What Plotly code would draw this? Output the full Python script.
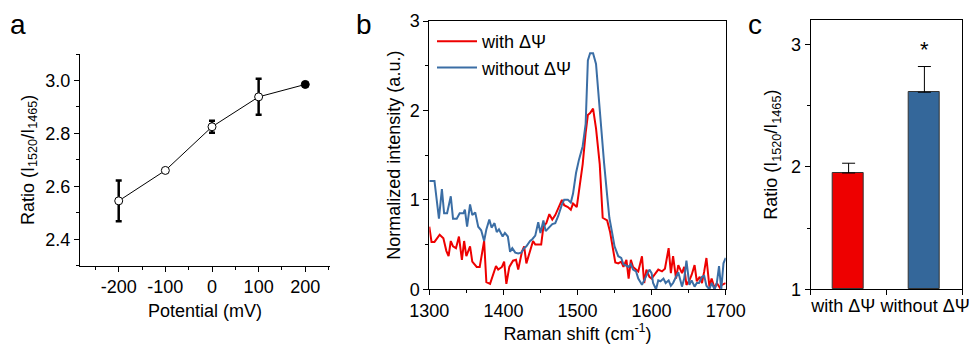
import plotly.graph_objects as go

W, H = 970, 344
FONT = "Liberation Sans, Arial, sans-serif"

# ---------------- Panel a data ----------------
potential = [-200, -100, 0, 100, 200]
ratio_a = [2.545, 2.66, 2.825, 2.938, 2.985]
ratio_a_err = [0.077, 0.0, 0.023, 0.068, 0.0]
marker_fill_a = ["white", "white", "white", "white", "black"]

# ---------------- Panel b data ----------------
raman_with = [1300, 1303, 1307, 1314, 1319, 1323, 1326, 1329, 1332, 1336, 1340, 1344, 1347, 1350, 1355,
              1358, 1364, 1368, 1374, 1377, 1382, 1386, 1390, 1393, 1398, 1401, 1404, 1408, 1413, 1417,
              1420, 1425, 1428, 1431, 1436, 1440, 1443, 1447, 1451, 1454, 1458, 1462, 1466, 1470, 1474,
              1479, 1482, 1487, 1491, 1494, 1499, 1502, 1507, 1511, 1514, 1517, 1521, 1525, 1530, 1534,
              1537, 1540, 1544, 1547, 1551, 1555, 1559, 1562, 1566, 1569, 1572, 1575, 1579, 1582, 1587,
              1590, 1593, 1597, 1600, 1605, 1609, 1614, 1618, 1623, 1626, 1629, 1633, 1636, 1641, 1644,
              1647, 1651, 1654, 1658, 1661, 1665, 1668, 1671, 1674, 1678, 1681, 1685, 1688, 1692, 1695,
              1700]
int_with = [0.70, 0.53, 0.53, 0.61, 0.57, 0.43, 0.37, 0.54, 0.48, 0.46, 0.59, 0.33, 0.54, 0.37, 0.48,
            0.31, 0.25, 0.25, 0.54, 0.08, 0.06, 0.16, 0.26, 0.22, 0.25, 0.31, 0.06, 0.25, 0.32, 0.33,
            0.22, 0.42, 0.48, 0.29, 0.43, 0.54, 0.50, 0.50, 0.50, 0.70, 0.74, 0.84, 0.78, 0.83, 0.91,
            1.00, 0.94, 0.92, 0.89, 0.96, 0.92, 1.10, 1.40, 1.75, 1.95, 1.97, 2.02, 1.80, 1.40, 0.80,
            0.78, 0.77, 0.64, 0.51, 0.30, 0.29, 0.31, 0.25, 0.33, 0.12, 0.33, 0.25, 0.22, 0.20, 0.37,
            0.07, 0.22, 0.14, 0.12, 0.18, 0.22, 0.20, 0.23, 0.46, 0.18, 0.37, 0.12, 0.27, 0.18, 0.25,
            0.05, 0.10, 0.16, 0.27, 0.09, 0.14, 0.07, 0.20, 0.35, 0.03, 0.12, 0.01, 0.07, 0.02, 0.05,
            0.07]

raman_without = [1300, 1307, 1310, 1313, 1317, 1320, 1324, 1329, 1332, 1337, 1341, 1346, 1348, 1351, 1355,
                 1358, 1362, 1366, 1370, 1374, 1377, 1381, 1384, 1388, 1391, 1394, 1399, 1402, 1406, 1409,
                 1412, 1416, 1420, 1424, 1428, 1431, 1436, 1439, 1443, 1447, 1450, 1454, 1457, 1462, 1466,
                 1470, 1474, 1479, 1482, 1487, 1491, 1494, 1498, 1502, 1507, 1511, 1514, 1517, 1521, 1525,
                 1528, 1532, 1536, 1540, 1543, 1547, 1550, 1555, 1559, 1562, 1565, 1569, 1572, 1575, 1579,
                 1582, 1587, 1590, 1593, 1597, 1600, 1602, 1606, 1609, 1612, 1616, 1619, 1623, 1626, 1629,
                 1633, 1636, 1641, 1644, 1647, 1651, 1654, 1658, 1661, 1664, 1668, 1671, 1674, 1678, 1681,
                 1685, 1688, 1691, 1694, 1697, 1700]
int_without = [1.21, 1.21, 1.00, 0.79, 1.12, 0.85, 0.85, 1.04, 0.79, 0.79, 0.85, 0.85, 0.89, 0.70, 0.95,
               0.83, 0.86, 0.70, 0.66, 0.54, 0.67, 0.78, 0.69, 0.74, 0.64, 0.67, 0.59, 0.63, 0.59, 0.42,
               0.46, 0.41, 0.40, 0.41, 0.46, 0.48, 0.54, 0.56, 0.60, 0.75, 0.63, 0.77, 0.65, 0.70, 0.73,
               0.74, 0.82, 0.95, 1.00, 1.00, 0.97, 1.07, 1.30, 1.45, 1.60, 1.85, 2.56, 2.64, 2.64, 2.52,
               2.20, 1.78, 1.40, 1.05, 0.80, 0.62, 0.48, 0.37, 0.35, 0.28, 0.27, 0.25, 0.28, 0.22, 0.20,
               0.12, 0.05, 0.10, 0.16, 0.22, 0.18, 0.07, 0.00, 0.10, 0.09, 0.12, 0.07, 0.10, 0.04, 0.07,
               0.14, 0.19, 0.03, 0.12, 0.32, 0.05, 0.10, 0.03, 0.07, 0.07, 0.14, 0.15, 0.04, 0.00, 0.07,
               0.00, 0.07, 0.26, 0.00, 0.29, 0.35]

# ---------------- Panel c data ----------------
conditions = ["with ΔΨ", "without ΔΨ"]
ratio_c = [1.95, 2.61]
ratio_c_err = [0.08, 0.21]
significance = ["", "*"]

RED = "#ee0000"
BLUE_LINE = "#3b6ea5"
BLUE_BAR = "#34679a"


def px_x(p):
    return p / W


def px_y(p):
    return 1 - p / H


fig = go.Figure()

# Panel a
fig.add_trace(go.Scatter(
    x=potential, y=ratio_a, mode="lines+markers",
    line=dict(color="black", width=1),
    marker=dict(symbol="circle", size=8, color=marker_fill_a, line=dict(color="black", width=1)),
    error_y=dict(type="data", array=ratio_a_err, visible=True, color="black", thickness=2.5, width=3),
    xaxis="x", yaxis="y", showlegend=False,
))

# Panel b
fig.add_trace(go.Scatter(
    x=raman_with, y=int_with, mode="lines", name="with ΔΨ",
    line=dict(color=RED, width=2), xaxis="x2", yaxis="y2",
))
fig.add_trace(go.Scatter(
    x=raman_without, y=int_without, mode="lines", name="without ΔΨ",
    line=dict(color=BLUE_LINE, width=2), xaxis="x2", yaxis="y2",
))

# Panel c
fig.add_trace(go.Bar(
    x=[0, 1], y=[v - 1 for v in ratio_c], base=1, width=0.41,
    marker=dict(color=[RED, BLUE_BAR], line=dict(color="#333333", width=1)),
    error_y=dict(type="data", symmetric=False, array=ratio_c_err, arrayminus=[0, 0],
                 color="black", thickness=1, width=6.5),
    xaxis="x3", yaxis="y3", showlegend=False,
))

for i, s in enumerate(significance):
    if s:
        fig.add_annotation(x=i, y=ratio_c[i] + ratio_c_err[i] + 0.14, xref="x3", yref="y3",
                           text=s, showarrow=False, font=dict(size=22, color="black", family=FONT),
                           yanchor="middle")

tickfont = dict(family=FONT, size=18, color="black")
titlefont = dict(family=FONT, size=18, color="black")
common = dict(showgrid=False, zeroline=False, showline=True, linecolor="black", linewidth=1,
              ticks="outside", ticklen=5, tickwidth=1, tickcolor="black", tickfont=tickfont,
              automargin=False, tickangle=0)

fig.update_layout(
    width=W, height=H,
    margin=dict(l=0, r=0, t=0, b=0),
    paper_bgcolor="white", plot_bgcolor="white",
    font=dict(family=FONT, color="black"),
    xaxis=dict(domain=[px_x(80), px_x(330)], range=[-283, 253], anchor="y",
               tickvals=potential, ticktext=["-200", "-100", "0", "100", "200"],
               minor=dict(tickvals=[-250, -150, -50, 50, 150, 250], ticks="outside", ticklen=3,
                          tickcolor="black"),
               title=dict(text="Potential (mV)", font=titlefont, standoff=8), **common),
    yaxis=dict(domain=[px_y(265.7), px_y(54)], range=[2.3, 3.1], anchor="x",
               tickvals=[2.4, 2.6, 2.8, 3.0], ticktext=["2.4", "2.6", "2.8", "3.0"],
               minor=dict(tickvals=[2.3, 2.5, 2.7, 2.9, 3.1], ticks="outside", ticklen=3,
                          tickcolor="black"),
               title=dict(text="Ratio (I<sub>1520</sub>/I<sub>1465</sub>)", font=titlefont, standoff=6),
               **common),
    xaxis2=dict(domain=[px_x(429.3), px_x(725.7)], range=[1300, 1700], anchor="y2", mirror=True,
                tickvals=[1300, 1400, 1500, 1600, 1700],
                minor=dict(tickvals=[1350, 1450, 1550, 1650], ticks="outside", ticklen=3,
                           tickcolor="black"),
                title=dict(text="Raman shift (cm<sup>-1</sup>)", font=titlefont, standoff=10), **common),
    yaxis2=dict(domain=[px_y(289.3), px_y(21)], range=[0, 3], anchor="x2", mirror=True,
                tickvals=[0, 1, 2, 3],
                minor=dict(tickvals=[0.5, 1.5, 2.5], ticks="outside", ticklen=3, tickcolor="black"),
                title=dict(text="Normalized intensity (a.u.)", font=titlefont, standoff=4), **common),
    xaxis3=dict(domain=[px_x(810.7), px_x(962.3)], range=[-0.5, 1.5], anchor="y3", mirror=True,
                tickvals=[-0.07, 1.01], ticktext=conditions, ticklabeloverflow="allow",
                minor=dict(tickvals=[-0.5, 0.5, 1.5], ticks="outside", ticklen=5, tickcolor="black"),
                **{**common, "ticklen": 0, "ticks": ""}),
    yaxis3=dict(domain=[px_y(289.3), px_y(20)], range=[1, 3.2], anchor="x3", mirror=True,
                tickvals=[1, 2, 3],
                minor=dict(tickvals=[1.5, 2.5], ticks="outside", ticklen=3, tickcolor="black"),
                title=dict(text="Ratio (I<sub>1520</sub>/I<sub>1465</sub>)", font=titlefont, standoff=8),
                **common),
    legend=dict(x=px_x(432), y=px_y(23), xanchor="left", yanchor="top",
                bgcolor="rgba(0,0,0,0)", font=dict(family=FONT, size=18, color="black"),
                itemwidth=40, tracegroupgap=0),
    bargap=0,
)

for lbl, xp in [("a", 18), ("b", 364), ("c", 755)]:
    fig.add_annotation(text=lbl, x=px_x(xp), y=px_y(42), xref="paper", yref="paper",
                       xanchor="center", yanchor="bottom", showarrow=False,
                       font=dict(family=FONT, size=28, color="black"))

fig.write_html("out.html", config={"displayModeBar": False},
               post_script="document.body.style.margin='0';")
